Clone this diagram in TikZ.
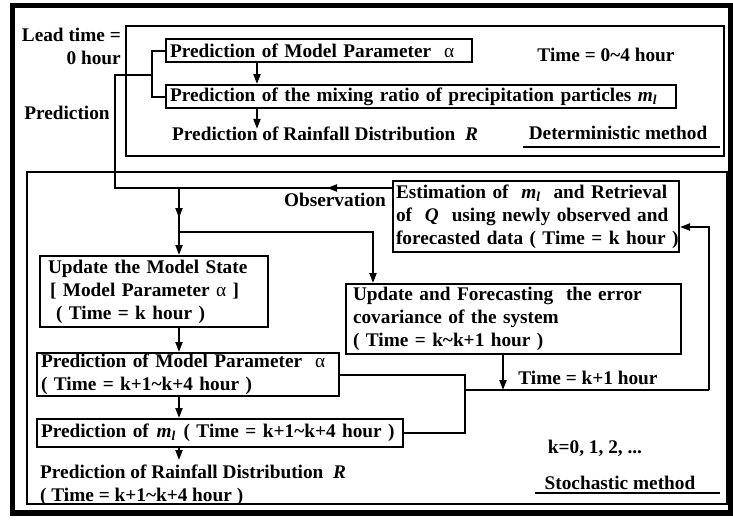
\documentclass[tikz,border=0pt]{standalone}
\usepackage{fontspec}
\setmainfont{Liberation Serif}
\usetikzlibrary{arrows.meta}

\newcommand\al{{\mdseries α}}
\newcommand\ml{\textit{m}\textsubscript{\textit{l}}}
\newcommand\tld{\textasciitilde}

\begin{document}
\begin{tikzpicture}[
  x=1pt, y=-1pt,
  font=\fontsize{19.3}{23}\selectfont\bfseries,
  box/.style={draw, line width=2pt, anchor=north west, align=left,
              inner xsep=4pt, inner ysep=1pt},
  lbl/.style={inner sep=0pt},
  fl/.style={-{Triangle[length=10pt,width=7pt]}, line width=2pt},
  ln/.style={line width=2pt}
]
\useasboundingbox (0,0) rectangle (733,520);

% ---------- frames ----------
\draw[line width=5.5pt] (12.5,5.5) rectangle (731,513);
\draw[ln] (126,26) rectangle (724,156);
\draw[ln] (27,172) rectangle (727,504);

% ---------- deterministic method ----------
\node[lbl, anchor=east, align=right] (lead) at (121,46.5) {Lead time =\\0 hour};
\node[box, text width=298pt, minimum height=23pt] (p0) at (165,38)
  {\mbox{Prediction of Model Parameter\ \ \al}};
\node[box, text width=502pt, minimum height=23pt] (mx) at (165,84)
  {\mbox{Prediction of the mixing ratio of precipitation particles \ml}};
\node[lbl, anchor=west] (rain0) at (172,134) {Prediction of Rainfall Distribution\ \ \textit{R}};
\node[lbl] (t04) at (606,55) {Time = 0\tld4 hour};
\node[lbl] (det) at (618,133) {Deterministic method};
\draw[ln] (523,147) -- (720,147);

\coordinate (ax) at (257,0);
\draw[fl] (ax |- p0.south) -- (ax |- mx.north);
\draw[fl] (ax |- mx.south) -- ([yshift=-2pt]ax |- rain0.north);
\draw[ln] (p0.west) -- ++(-13,0) |- (mx.west);

% ---------- prediction / observation lines ----------
\node[lbl] (pred) at (67,113) {Prediction};
\node[lbl] (obs) at (335,200) {Observation};
\node[box, inner xsep=3pt, text width=280pt, minimum height=71pt] (est) at (392,180)
  {\mbox{Estimation of\ \ \ml\ \ and Retrieval}\\\mbox{of\ \ \textit{Q}\ \ using newly observed and}\\\mbox{forecasted data ( Time = k hour )}};

\coordinate (jp) at (152,75);
\coordinate (jo) at (115,188);
\coordinate (jd) at (179,188);
\coordinate (jb) at (179,232);
\coordinate (cb) at (373,232);
\draw[ln] (jo -| est.west) -- (jo) |- (jp);
\draw[fl] (jo -| est.west) -- ++(-65,0);
\draw[fl] (jd) -- ++(0,30);

% ---------- stochastic method ----------
\node[box, text width=220pt, minimum height=71pt] (ums) at (39,255)
  {\hspace*{4pt}Update the Model State\\\hspace*{6pt}[ Model Parameter \al\ ]\\\hspace*{12pt}( Time = k hour )};
\node[box, text width=327pt, minimum height=70pt] (cov) at (345,283)
  {\hspace*{3pt}Update and Forecasting\ \ the error\\\hspace*{3pt}covariance of the system\\\hspace*{3pt}( Time = k\tld k+1 hour )};
\node[box, text width=294pt, minimum height=43pt] (pa) at (36,352)
  {\mbox{Prediction of Model Parameter\ \ \al}\\( Time = k+1\tld k+4 hour )};
\node[box, text width=358pt, minimum height=28pt] (pm) at (36,418)
  {\mbox{Prediction of\hspace{0.4em}\ml\hspace{0.4em}( Time = k+1\tld k+4 hour )}};
\node[lbl, anchor=north west, align=left] (rain) at (40,465)
  {Prediction of Rainfall Distribution\ \ \textit{R}\\( Time = k+1\tld k+4 hour )};
\node[lbl] (tk1) at (588,378) {Time = k+1 hour};
\node[lbl] (kk) at (595,448) {k=0, 1, 2, ...};
\node[lbl] (sto) at (620,483) {Stochastic method};
\draw[ln] (535,493) -- (720,493);

\draw[fl] (jd) -- (jd |- ums.north);
\draw[fl] (jb) -- (cb) -- (cb |- cov.north);
\draw[fl] (jd |- ums.south) -- (jd |- pa.north);
\draw[fl] (jd |- pa.south) -- (jd |- pm.north);
\draw[fl] (jd |- pm.south) -- ([yshift=5pt]jd |- rain.north);

% ---------- feedback to the estimation ----------
\coordinate (jm) at (465,390);
\coordinate (jt) at (503,390);
\coordinate (jr) at (709,390);
\coordinate (fb) at (709,227);
\draw[ln] (pa.east) -| (jm);
\draw[ln] (pm.east) -| (jm);
\draw[ln] (jm) -- (jr);
\draw[fl] (jr) -- (fb) -- (fb -| est.east);
\draw[fl] (jt |- cov.south) -- (jt);

\end{tikzpicture}
\end{document}
